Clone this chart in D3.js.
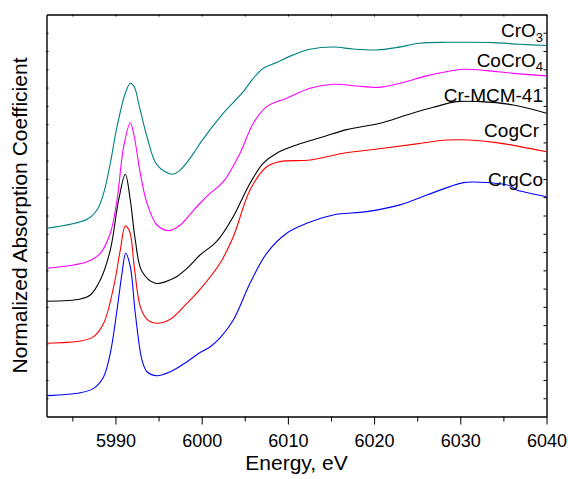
<!DOCTYPE html>
<html>
<head>
<meta charset="utf-8">
<script src="https://cdn.jsdelivr.net/npm/d3@7"></script>
<style>
  body { margin: 0; background: #fff; }
  svg { display: block; font-family: Arial, "Liberation Sans", sans-serif; }
</style>
</head>
<body>
<div id="chart"></div>
<script>
// Cr K-edge XANES spectra, stacked with vertical offsets (arbitrary units)
const crO3E = [5982.06, 5986.7, 5987.86, 5988.63, 5989.4, 5990.18, 5991.14, 5991.72, 5992.18, 5992.69, 5993.66, 5994.82, 5996.56, 5997.52, 5999.07, 5999.81, 6002.51, 6004.83, 6005.99, 6007.15, 6008.7, 6010.63, 6012.57, 6015.27, 6017.59, 6020.3, 6022.62, 6025.32, 6028.42, 6030.74, 6033.83, 6036.92, 6040];
const crO3Y = [10.30, 10.79, 11.30, 12.22, 13.86, 15.86, 17.69, 18.24, 18.05, 17.14, 15.31, 13.77, 13.26, 13.49, 14.41, 14.95, 16.60, 17.78, 18.51, 19.06, 19.37, 19.79, 20.10, 20.22, 20.11, 20.06, 20.19, 20.43, 20.48, 20.48, 20.46, 20.37, 20.30];

const coCrO4E = [5982.06, 5986.7, 5988.24, 5989.4, 5990.18, 5990.95, 5991.72, 5992.18, 5992.88, 5993.66, 5994.82, 5996.17, 5997.52, 5999.07, 5999.81, 6001.0, 6002.51, 6004.45, 6005.99, 6007.54, 6009.86, 6012.57, 6015.27, 6017.98, 6020.45, 6023.0, 6026.1, 6028.8, 6030.35, 6033.06, 6036.15, 6040];
const coCrO4Y = [8.11, 8.47, 8.93, 10.03, 11.85, 14.77, 16.08, 15.31, 13.31, 11.67, 10.48, 10.17, 10.48, 11.30, 11.67, 12.22, 12.85, 14.41, 16.05, 16.96, 17.42, 17.96, 18.18, 18.09, 18.01, 18.24, 18.64, 18.91, 19.00, 18.93, 18.78, 18.64];

const crMcmE = [5982.06, 5985.92, 5987.08, 5988.24, 5989.4, 5990.37, 5991.14, 5991.72, 5992.3, 5993.08, 5994.62, 5996.75, 5998.3, 5999.81, 6001.39, 6002.13, 6003.67, 6005.61, 6007.15, 6008.7, 6011.02, 6014.11, 6016.82, 6020.68, 6023.78, 6026.87, 6029.58, 6032.28, 6036.15, 6040];
const crMcmY = [6.31, 6.43, 6.65, 7.47, 9.11, 11.85, 13.26, 11.85, 9.66, 7.93, 7.29, 7.56, 8.11, 8.84, 9.42, 9.80, 10.94, 12.76, 13.86, 14.41, 14.86, 15.31, 15.70, 16.05, 16.50, 16.92, 17.23, 17.23, 17.05, 16.60];

const coGCrE = [5982.06, 5985.92, 5987.47, 5988.63, 5989.79, 5990.56, 5991.14, 5991.65, 5992.18, 5992.88, 5993.66, 5994.82, 5996.36, 5998.3, 5999.81, 6002.13, 6003.67, 6005.61, 6007.54, 6009.09, 6012.57, 6016.43, 6021.07, 6024.94, 6028.42, 6031.12, 6034.22, 6036.92, 6040];
const coGCrY = [4.01, 4.13, 4.37, 5.10, 7.10, 9.11, 10.43, 10.11, 8.20, 6.01, 5.32, 5.10, 5.32, 6.20, 6.96, 8.39, 9.84, 12.40, 13.67, 13.95, 14.04, 14.41, 14.68, 14.92, 15.13, 15.13, 14.99, 14.77, 14.49];

const crGCoE = [5982.06, 5985.92, 5987.47, 5988.63, 5989.4, 5990.18, 5990.76, 5991.19, 5991.72, 5992.3, 5993.08, 5993.66, 5994.82, 5996.36, 5998.3, 5999.81, 6001.0, 6002.13, 6003.67, 6005.61, 6007.54, 6009.86, 6012.18, 6015.27, 6019.14, 6023.0, 6026.1, 6028.8, 6030.35, 6032.28, 6035.76, 6036.54, 6037.31, 6040];
const crGCoY = [1.14, 1.30, 1.54, 2.18, 3.46, 5.83, 7.84, 8.93, 8.20, 5.65, 3.09, 2.45, 2.23, 2.45, 3.00, 3.50, 3.82, 4.30, 5.28, 7.29, 8.93, 10.03, 10.57, 11.03, 11.21, 11.58, 12.12, 12.58, 12.80, 12.82, 12.63, 12.40, 12.30, 12.03];

const seriesNames = ['CrO3', 'CoCrO4', 'Cr-MCM-41', 'CogCr', 'CrgCo'];
const labelMain = ['CrO', 'CoCrO', 'Cr-MCM-41', 'CogCr', 'CrgCo'];
const labelSub = ['3', '4', '', '', ''];
const labelY = [20.76, 19.15, 17.23, 15.27, 12.62];
const xTicks = [5990, 6000, 6010, 6020, 6030, 6040];

const colors = ['#008080', '#ff00ff', '#000000', '#ff0000', '#0000ff'];
const energies = [crO3E, coCrO4E, crMcmE, coGCrE, crGCoE];
const values = [crO3Y, coCrO4Y, crMcmY, coGCrY, crGCoY];

const width = 568, height = 479;
const plot = { left: 46.5, right: 546.5, top: 14.5, bottom: 416.5 };

const svg = d3.select('#chart').append('svg')
  .attr('width', width)
  .attr('height', height);

const x = d3.scaleLinear().domain([5982, 6040]).range([plot.left, plot.right]);
const y = d3.scaleLinear().domain([0, 22]).range([plot.bottom, plot.top]);

// Bottom axis: outward ticks, labelled every 10 eV
const xAxis = svg.append('g')
  .attr('transform', `translate(0,${plot.bottom})`)
  .call(d3.axisBottom(x).tickValues(xTicks).tickSize(8).tickSizeOuter(0).tickFormat(d3.format('d')));
xAxis.selectAll('text').attr('font-size', 18).attr('fill', '#000').attr('dy', '1.1em');
xAxis.append('g')
  .call(d3.axisBottom(x).tickValues(d3.range(5985, 6040, 10)).tickSize(5).tickFormat(''))
  .select('.domain').remove();

// Top axis: small inward ticks, no labels
svg.append('g')
  .attr('transform', `translate(0,${plot.top})`)
  .call(d3.axisBottom(x).tickValues(d3.range(5985, 6041, 5)).tickSize(2).tickSizeOuter(0).tickFormat(''));

// Left / right axes: inward ticks, no labels
svg.append('g')
  .attr('transform', `translate(${plot.left},0)`)
  .call(d3.axisRight(y).tickValues(d3.range(1, 22)).tickSize(2).tickSizeOuter(0).tickFormat(''));
svg.append('g')
  .attr('transform', `translate(${plot.right},0)`)
  .call(d3.axisLeft(y).tickValues(d3.range(1, 22)).tickSize(3).tickSizeOuter(0).tickFormat(''));

svg.selectAll('.domain').attr('stroke', '#000').attr('stroke-width', 1.4);
svg.selectAll('.tick line').attr('stroke', '#000').attr('stroke-width', 1);

// Spectra
const line = d3.line()
  .x(d => x(d[0]))
  .y(d => y(d[1]))
  .curve(d3.curveCatmullRom.alpha(0.5));

seriesNames.forEach((name, i) => {
  const pts = energies[i].map((e, j) => [e, values[i][j]]);
  svg.append('path')
    .datum(pts)
    .attr('fill', 'none')
    .attr('stroke', colors[i])
    .attr('stroke-width', 1.1)
    .attr('d', line);
});

// Series labels
seriesNames.forEach((name, i) => {
  const t = svg.append('text')
    .attr('x', i === 3 ? 539 : 543)
    .attr('y', y(labelY[i]))
    .attr('text-anchor', 'end')
    .attr('font-size', 19)
    .attr('fill', '#000');
  t.append('tspan').text(labelMain[i]);
  if (labelSub[i]) {
    t.append('tspan').attr('font-size', 13).attr('dy', 4.5).text(labelSub[i]);
  }
});

// Axis titles
svg.append('text')
  .attr('x', (plot.left + plot.right) / 2)
  .attr('y', 470)
  .attr('text-anchor', 'middle')
  .attr('font-size', 21)
  .text('Energy, eV');

svg.append('text')
  .attr('transform', `translate(26.5,${(plot.top + plot.bottom) / 2}) rotate(-90)`)
  .attr('text-anchor', 'middle')
  .attr('font-size', 21)
  .text('Normalized Absorption Coefficient');
</script>
</body>
</html>
